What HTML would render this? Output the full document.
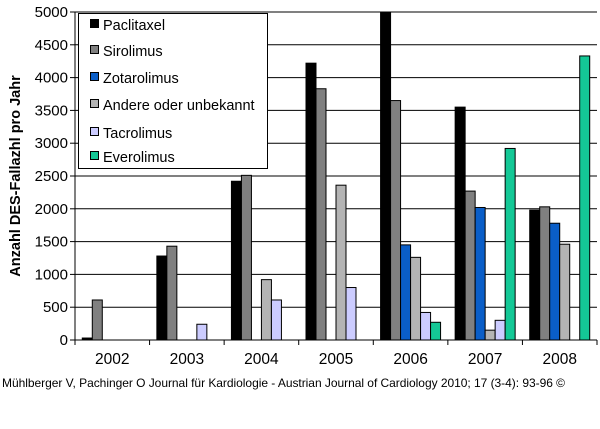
<!DOCTYPE html>
<html><head><meta charset="utf-8"><style>
body{margin:0;background:#fff;}
svg{display:block;font-family:"Liberation Sans",Arial,sans-serif;}
</style></head><body>
<svg id="chart" width="600" height="429"></svg>
<script>
const years=["2002","2003","2004","2005","2006","2007","2008"];
const seriesNames=["Paclitaxel","Sirolimus","Zotarolimus","Andere oder unbekannt","Tacrolimus","Everolimus"];
const paclitaxel=[30,1280,2420,4220,5000,3550,1980];
const sirolimus=[610,1430,2510,3830,3650,2270,2030];
const zotarolimus=[0,0,0,0,1450,2020,1780];
const andere=[0,0,920,2360,1260,150,1460];
const tacrolimus=[0,240,610,800,420,300,0];
const everolimus=[0,0,0,0,270,2920,4330];
const yTicks=[0,500,1000,1500,2000,2500,3000,3500,4000,4500,5000];
const colors=["#000000","#808080","#0a5ec8","#b4b4b4","#ccccff","#14c896"];
const series=[paclitaxel,sirolimus,zotarolimus,andere,tacrolimus,everolimus];
const NS="http://www.w3.org/2000/svg";
const svg=document.getElementById('chart');
const X0=75,X1=597,Y0=340,Y1=12,YMAX=5000;
const cw=(X1-X0)/years.length;
const y=v=>Y0-(v/YMAX)*(Y0-Y1);
function mk(t,a){const e=document.createElementNS(NS,t);for(const k in a)e.setAttribute(k,a[k]);svg.appendChild(e);return e;}
yTicks.forEach(t=>{
 const g=mk('line',{x1:X0,x2:X1,y1:y(t),y2:y(t),stroke:'#000','stroke-width':1});
 
 
 const tk=mk('line',{x1:X0-5,x2:X0,y1:y(t),y2:y(t),stroke:'#000'});
 
 
 const l=mk('text',{x:X0-7,y:y(t)+5,'text-anchor':'end','font-size':15,fill:'#000'});
 l.textContent=t;
 
 
});
const bw=10;
years.forEach((yr,i)=>{
 const gx=X0+i*cw+(cw-6*bw)/2;
 series.forEach((s,j)=>{
  if(s[i]<=0)return;
  const r=mk('rect',{x:gx+j*bw,y:y(s[i]),width:bw,height:Y0-y(s[i]),fill:colors[j],stroke:'#000','stroke-width':1});
  
  
 });
 const l=mk('text',{x:X0+(i+0.5)*cw,y:364,'text-anchor':'middle','font-size':15.5});
 l.textContent=yr;
 
 
 const tk=mk('line',{x1:X0+i*cw,x2:X0+i*cw,y1:Y0,y2:Y0+5,stroke:'#000'});
 
 
});
const tk=mk('line',{x1:X1,x2:X1,y1:Y0,y2:Y0+5,stroke:'#000'});


const ax=mk('line',{x1:X0,x2:X1,y1:Y0,y2:Y0,stroke:'#000'});


const ay=mk('line',{x1:X0,x2:X0,y1:Y1,y2:Y0,stroke:'#000'});


const lb=mk('rect',{x:78.5,y:13.5,width:189,height:155,fill:'#fff',stroke:'#000'});


const ly=[25,51,78,105,133,157];
seriesNames.forEach((n,j)=>{
 const s=mk('rect',{x:90.5,y:ly[j]-5.5,width:8,height:8,fill:colors[j],stroke:'#000'});
 
 
 const t=mk('text',{x:103,y:ly[j]+5,'font-size':14.5});
 t.textContent=n;
 
 
});
const yt=mk('text',{x:0,y:0,transform:'translate(20,176) rotate(-90)','text-anchor':'middle','font-size':14.5,'font-weight':'bold'});
yt.textContent='Anzahl DES-Fallazhl pro Jahr';


const ft=mk('text',{x:2,y:387,'font-size':12,textLength:563});
ft.textContent='Mühlberger V, Pachinger O Journal für Kardiologie - Austrian Journal of Cardiology 2010; 17 (3-4): 93-96 ©';


</script>
</body></html>
